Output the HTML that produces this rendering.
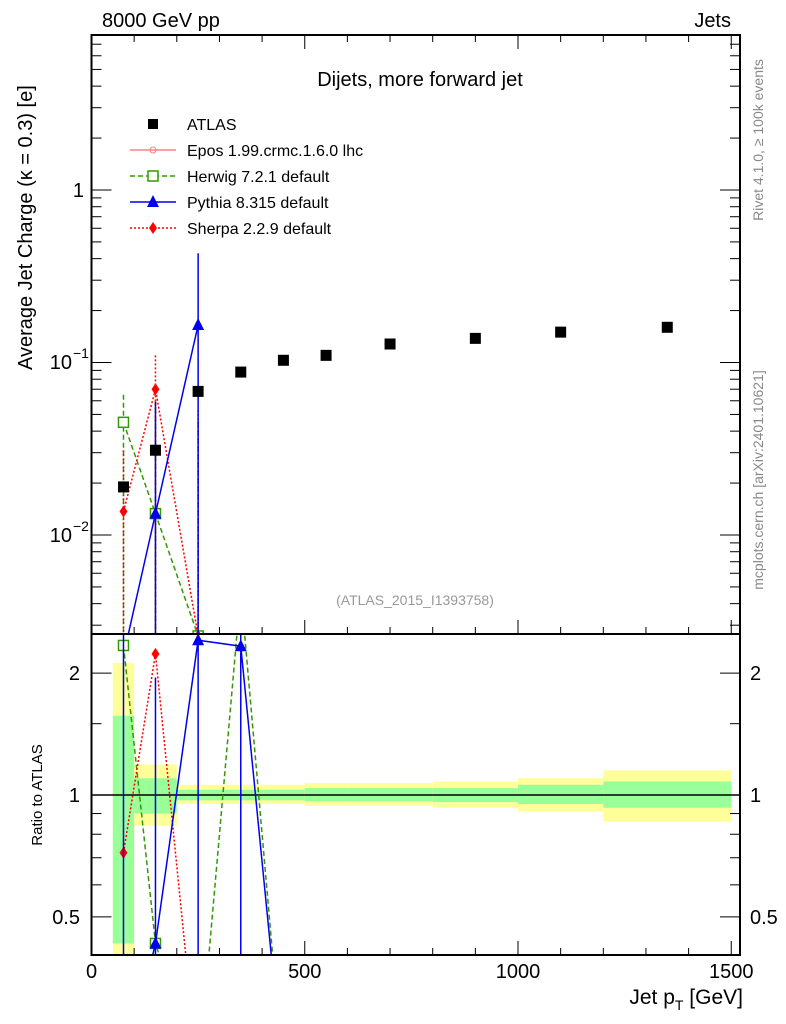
<!DOCTYPE html>
<html><head><meta charset="utf-8"><style>
html,body{margin:0;background:#fff;width:786px;height:1024px;overflow:hidden}
svg{display:block}
svg text{font-family:"Liberation Sans",sans-serif}
</style></head><body>
<svg id="c" width="786" height="1024" xmlns="http://www.w3.org/2000/svg"></svg>
<script>
const xs=[75,150,250,350,450,550,700,900,1100,1350];
const atlas=[0.019,0.031,0.068,0.088,0.103,0.110,0.128,0.138,0.150,0.160];
const herwig=[0.045,0.0133,0.0026];
const herwigUp=[0.065,0.06,0.045];
const pythia=[0.002,0.0133,0.165];
const pythiaUp=[0.002,0.059,0.43];
const sherpa=[0.0137,0.070,0.0026];
const sherpaUp=[0.031,0.11,0.053];
const rHerwig=[2.34,0.43,0.2,3.2,0.2];
const rPythia=[0.2,0.43,2.41,2.33,0.2];
const rSherpa=[0.72,2.23,0.2];
const binEdges=[50,100,200,300,400,500,600,800,1000,1200,1500];
const yelLo=[0.35,0.84,0.95,0.95,0.95,0.94,0.94,0.93,0.91,0.86];
const yelHi=[2.12,1.19,1.06,1.06,1.06,1.07,1.07,1.08,1.10,1.15];
const grnLo=[0.43,0.90,0.97,0.97,0.97,0.965,0.965,0.96,0.95,0.93];
const grnHi=[1.57,1.10,1.03,1.03,1.03,1.04,1.04,1.04,1.06,1.08];

const S=document.getElementById('c');const NS='http://www.w3.org/2000/svg';
const L=91.5,R=740,T=35,M=634,B=955;
const X=v=>L+v*0.4265;
const Y=v=>190-172.5*Math.log10(v);
const RY=v=>795-405*Math.log10(v);
function el(t,a,p){const e=document.createElementNS(NS,t);for(const k in a)e.setAttribute(k,a[k]);(p||S).appendChild(e);return e;}
function txt(x,y,s,o){const e=el('text',Object.assign({x:x,y:y,'font-size':20,fill:'#000'},o||{}));e.innerHTML=s;return e;}
const defs=el('defs',{});
const c1=el('clipPath',{id:'cm'},defs);el('rect',{x:L,y:T,width:R-L,height:M-T},c1);
const c2=el('clipPath',{id:'cr'},defs);el('rect',{x:L,y:M,width:R-L,height:B-M},c2);
const gm=el('g',{'clip-path':'url(#cm)'});
const gr=el('g',{'clip-path':'url(#cr)'});
for(let i=0;i<yelLo.length;i++){
 const x0=X(binEdges[i]),x1=X(binEdges[i+1]);
 const y=el('rect',{x:x0,y:RY(yelHi[i]),width:x1-x0,height:RY(yelLo[i])-RY(yelHi[i]),fill:'#ffff99'},gr);
 
 const g=el('rect',{x:x0,y:RY(grnHi[i]),width:x1-x0,height:RY(grnLo[i])-RY(grnHi[i]),fill:'#99ff99'},gr);
 
}
el('line',{x1:L,x2:R,y1:RY(1),y2:RY(1),stroke:'#000','stroke-width':1.5},gr);
function series(g,vals,yf,col,dash,mk,name,ups){
 const pts=vals.map((v,i)=>X(xs[i])+','+yf(v)).join(' ');
 const pl=el('polyline',{points:pts,fill:'none',stroke:col,'stroke-width':1.5,'stroke-dasharray':dash},g);
 
 vals.forEach((v,i)=>{
  const x=X(xs[i]),y=yf(v);
  if(ups){const e=el('line',{x1:x,x2:x,y1:yf(ups[i]),y2:B,stroke:col,'stroke-width':1.5,'stroke-dasharray':dash},g);}
  let m;
  if(mk=='sq')m=el('rect',{x:x-5,y:y-5,width:10,height:10,fill:'#fff',stroke:col,'stroke-width':1.5},g);
  else if(mk=='tri')m=el('polygon',{points:`${x},${y-7} ${x-6},${y+5} ${x+6},${y+5}`,fill:col},g);
  else m=el('polygon',{points:`${x},${y-6} ${x-4},${y} ${x},${y+6} ${x+4},${y}`,fill:col},g);
  
 });
}
series(gm,herwig,Y,'#339900','5,3','sq','herwig',herwigUp);
series(gm,sherpa,Y,'#ff0000','2,2','dia','sherpa',sherpaUp);
series(gm,pythia,Y,'#0000ee','','tri','pythia',pythiaUp);
atlas.forEach((v,i)=>{const m=el('rect',{x:X(xs[i])-5.5,y:Y(v)-5.5,width:11,height:11,fill:'#000'},gm);});
series(gr,rHerwig,RY,'#339900','5,3','sq','herwig-ratio',null);
series(gr,rSherpa,RY,'#ff0000','2,2','dia','sherpa-ratio',null);
series(gr,rPythia,RY,'#0000ee','','tri','pythia-ratio',null);
[[75,0.03,2.6],[150,0.05,1.95],[250,0.2,2.6],[350,0.2,2.6]].forEach(a=>{const e=el('line',{x1:X(a[0]),x2:X(a[0]),y1:RY(a[2]),y2:RY(a[1]),stroke:'#0000ee','stroke-width':1.5},gr);});
el('rect',{x:L,y:T,width:R-L,height:M-T,fill:'none',stroke:'#000','stroke-width':2});
el('rect',{x:L,y:M,width:R-L,height:B-M,fill:'none',stroke:'#000','stroke-width':2});
for(let v=0;v<=1500;v+=100){const big=v%500==0,h=big?14:7;
 [M,B].forEach(b=>{el('line',{x1:X(v),x2:X(v),y1:b,y2:b-h,stroke:'#000','stroke-width':1});});
 el('line',{x1:X(v),x2:X(v),y1:T,y2:T+h,stroke:'#000','stroke-width':1});
 if(big){const t=txt(X(v),978,v,{'text-anchor':'middle'});}
}
for(let d=-3;d<=0;d++)for(let k=1;k<10;k++){const v=k*Math.pow(10,d),y=Y(v);if(y<T||y>M)continue;const h=k==1?20:10;
 el('line',{x1:L,x2:L+h,y1:y,y2:y,stroke:'#000'});el('line',{x1:R,x2:R-h,y1:y,y2:y,stroke:'#000'});}
txt(84,197,'1',{'text-anchor':'end'});
txt(72,369,'10',{'text-anchor':'end'});txt(73,358,'−1',{'font-size':14});
txt(72,542,'10',{'text-anchor':'end'});txt(73,531,'−2',{'font-size':14});
[0.5,0.6,0.7,0.8,0.9,1,1.5,2].forEach(v=>{const y=RY(v),h=(v==0.5||v==1||v==2)?20:10;
 el('line',{x1:L,x2:L+h,y1:y,y2:y,stroke:'#000'});el('line',{x1:R,x2:R-h,y1:y,y2:y,stroke:'#000'});});
[[2,'2'],[1,'1'],[0.5,'0.5']].forEach(a=>{txt(80,RY(a[0])+7,a[1],{'text-anchor':'end'});txt(750,RY(a[0])+7,a[1]);});
txt(102,27,'8000 GeV pp');
txt(731,27,'Jets',{'text-anchor':'end'});
txt(420,86,'Dijets, more forward jet',{'text-anchor':'middle'});
txt(415,605,'(ATLAS_2015_I1393758)',{'text-anchor':'middle','font-size':14,fill:'#999'});
const yt=txt(0,0,'Average Jet Charge (κ = 0.3) [e]',{transform:'translate(32,370) rotate(-90)','font-size':20});
const rt=txt(0,0,'Ratio to ATLAS',{transform:'translate(42,795) rotate(-90)','font-size':15,'text-anchor':'middle'});
const xt=txt(743,1004,'Jet p<tspan font-size="14" dy="6">T</tspan><tspan dy="-6"> [GeV]</tspan>',{'text-anchor':'end','font-size':21});
txt(0,0,'Rivet 4.1.0, ≥ 100k events',{transform:'translate(763,140) rotate(-90)','font-size':14,fill:'#888','text-anchor':'middle'});
txt(0,0,'mcplots.cern.ch [arXiv:2401.10621]',{transform:'translate(763,480) rotate(-90)','font-size':14,fill:'#888','text-anchor':'middle'});
const lg=el('g',{});
const lgd=[['ATLAS','#000','','atlas'],['Epos 1.99.crmc.1.6.0 lhc','#ff8080','','epos'],['Herwig 7.2.1 default','#339900','5,3','sq'],['Pythia 8.315 default','#0000ee','','tri'],['Sherpa 2.2.9 default','#ff0000','2,2','dia']];
lgd.forEach((a,i)=>{const y=124+26*i;
 if(a[3]!='atlas')el('line',{x1:130,x2:176,y1:y,y2:y,stroke:a[1],'stroke-width':1.5,'stroke-dasharray':a[2]},lg);
 if(a[3]=='atlas')el('rect',{x:148,y:y-5,width:10,height:10,fill:'#000'},lg);
 else if(a[3]=='epos')el('circle',{cx:153,cy:y,r:3,fill:'none',stroke:a[1]},lg);
 else if(a[3]=='sq')el('rect',{x:148,y:y-5,width:10,height:10,fill:'#fff',stroke:a[1],'stroke-width':1.5},lg);
 else if(a[3]=='tri')el('polygon',{points:`153,${y-7} 147,${y+5} 159,${y+5}`,fill:a[1]},lg);
 else el('polygon',{points:`153,${y-6} 149,${y} 153,${y+6} 157,${y}`,fill:a[1]},lg);
 const t=txt(187,y+6,a[0],{'font-size':16},);lg.appendChild(t);
});
</script>
</body></html>
